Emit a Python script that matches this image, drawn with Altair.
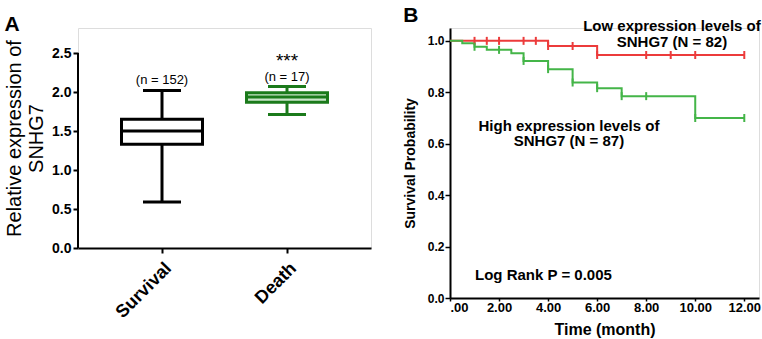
import altair as alt
import pandas as pd

FONT = "Liberation Sans"

# ---------- Panel A data (box plot summary) ----------
groups = ["Survival", "Death"]
box_min = [0.59, 1.71]
box_q1 = [1.33, 1.87]
box_med = [1.50, 1.935]
box_q3 = [1.65, 1.99]
box_max = [2.02, 2.07]
box_stroke = ["#000000", "#1b7a1b"]
box_fill = ["#ffffff", "#c9e6c9"]

n_labels = ["(n = 152)", "(n = 17)"]
n_label_y = [2.15, 2.19]
sig_labels = ["", "***"]
sig_y = [2.40, 2.40]
y_ticks_A = [0, 0.5, 1.0, 1.5, 2.0, 2.5]
y_axis_top_A = 2.5

# ---------- Panel B data (Kaplan-Meier) ----------
low_t = [0, 4.0, 6.0, 12.0]
low_s = [1.0, 0.98, 0.945, 0.945]
high_t = [0, 0.5, 1.0, 1.5, 2.5, 3.0, 4.0, 5.0, 6.0, 7.0, 10.0, 12.0]
high_s = [1.0, 0.991, 0.977, 0.965, 0.952, 0.922, 0.89, 0.838, 0.816, 0.785, 0.70, 0.70]

low_cens_t = [1.0, 1.5, 2.0, 3.0, 3.5, 4.0, 5.0, 6.0, 8.0, 9.0, 10.0, 12.0]
low_cens_s = [1.0, 1.0, 1.0, 1.0, 1.0, 0.98, 0.98, 0.945, 0.945, 0.945, 0.945, 0.945]
high_cens_t = [1.0, 2.0, 3.0, 4.0, 5.0, 6.0, 7.0, 8.0, 10.0, 12.0]
high_cens_s = [0.977, 0.965, 0.922, 0.89, 0.838, 0.816, 0.785, 0.785, 0.70, 0.70]

ann_text = ["Low expression levels of", "SNHG7 (N = 82)",
            "High expression levels of", "SNHG7 (N = 87)"]
ann_x = [9.05, 9.05, 4.85, 4.85]
ann_y = [1.056, 0.996, 0.667, 0.612]
logrank_text = ["Log Rank P = 0.005"]
logrank_x = [1.02]
logrank_y = [0.089]

RED = "#ec3b3b"
GREEN = "#44b548"

# ---------- Panel A ----------
dfA = pd.DataFrame({
    "group": groups, "min": box_min, "q1": box_q1, "med": box_med,
    "q3": box_q3, "max": box_max, "n": n_labels, "ny": n_label_y,
    "sig": sig_labels, "sy": sig_y,
})

HEIGHT_A = 220          # plot area incl. free space above the 2.5 tick
AXIS_PX_A = 195         # pixel length of the 0..2.5 axis

xA = alt.X("group:N", sort=groups,
           scale=alt.Scale(type="point", domain=groups, padding=0.672),
           axis=alt.Axis(title=None, labelAngle=-45, labelFontSize=18,
                         labelFontWeight="bold", labelColor="black",
                         labelFont=FONT, labelPadding=6,
                         tickSize=5, tickWidth=2, tickColor="black",
                         domainWidth=2, domainColor="black", grid=False))
yScaleA = alt.Scale(domain=[0, y_axis_top_A * HEIGHT_A / AXIS_PX_A], nice=False)
yAxisA = alt.Axis(values=y_ticks_A, format=".1f",
                  labelFontSize=14, labelFontWeight="bold", labelColor="black",
                  labelFont=FONT, labelPadding=2,
                  tickSize=5, tickWidth=2, tickColor="black",
                  domain=False, grid=False,
                  title=["Relative expression of", "SNHG7"],
                  titleFontSize=20, titleFontWeight="normal", titleColor="black",
                  titleFont=FONT, titlePadding=5)


def yA(field):
    return alt.Y(field, scale=yScaleA, axis=yAxisA)


colorA = alt.Color("group:N", scale=alt.Scale(domain=groups, range=box_stroke), legend=None)
strokeA = alt.Stroke("group:N", scale=alt.Scale(domain=groups, range=box_stroke), legend=None)
fillA = alt.Fill("group:N", scale=alt.Scale(domain=groups, range=box_fill), legend=None)

baseA = alt.Chart(dfA)
axis_line = baseA.mark_rule(strokeWidth=2, color="black").encode(
    x=alt.value(0), y=alt.Y(datum=0, scale=yScaleA, axis=yAxisA), y2=alt.Y2(datum=y_axis_top_A))
whisk_lo = baseA.mark_rule(strokeWidth=3).encode(
    x=xA, y=yA("min:Q"), y2="q1:Q", color=colorA)
whisk_hi = baseA.mark_rule(strokeWidth=3).encode(
    x=xA, y=yA("q3:Q"), y2="max:Q", color=colorA)
caps_lo = baseA.mark_tick(thickness=3, size=38, opacity=1).encode(
    x=xA, y=yA("min:Q"), color=colorA)
caps_hi = baseA.mark_tick(thickness=3, size=38, opacity=1).encode(
    x=xA, y=yA("max:Q"), color=colorA)
boxes = baseA.mark_bar(strokeWidth=3, size=81, opacity=1).encode(
    x=xA, y=yA("q1:Q"), y2="q3:Q", stroke=strokeA, fill=fillA)
medians = baseA.mark_tick(thickness=3, size=81, opacity=1).encode(
    x=xA, y=yA("med:Q"), color=colorA)
ntext = baseA.mark_text(fontSize=13, font=FONT, color="black", baseline="middle").encode(
    x=xA, y=yA("ny:Q"), text="n:N")
sigtext = baseA.mark_text(fontSize=19, font=FONT, color="black", baseline="middle").encode(
    x=xA, y=yA("sy:Q"), text="sig:N")

panelA = alt.layer(whisk_lo, axis_line, whisk_hi, caps_lo, caps_hi, boxes, medians,
                   ntext, sigtext).properties(
    width=293, height=HEIGHT_A,
    title=alt.TitleParams("A", anchor="start", fontSize=21, fontWeight="bold",
                          font=FONT, color="black", offset=-7))

# ---------- Panel B ----------
dfLine = pd.concat([
    pd.DataFrame({"t": low_t, "s": low_s, "grp": "Low"}),
    pd.DataFrame({"t": high_t, "s": high_s, "grp": "High"}),
])
dfCens = pd.concat([
    pd.DataFrame({"t": low_cens_t, "s": low_cens_s, "grp": "Low"}),
    pd.DataFrame({"t": high_cens_t, "s": high_cens_s, "grp": "High"}),
])
dfAnn = pd.DataFrame({"x": ann_x, "y": ann_y, "text": ann_text})
dfLR = pd.DataFrame({"x": logrank_x, "y": logrank_y, "text": logrank_text})

xScaleB = alt.Scale(domain=[0, 12.6], nice=False, zero=False)
yScaleB = alt.Scale(domain=[0, 1.05], nice=False)
xAxisB = alt.Axis(values=[0, 2, 4, 6, 8, 10, 12],
                  labelExpr="datum.value == 0 ? '.00' : format(datum.value, '.2f')",
                  labelFontSize=13, labelFontWeight="bold", labelColor="black",
                  labelFont=FONT, labelPadding=0, tickSize=3, tickWidth=1.5,
                  tickColor="black", domainWidth=2, domainColor="black", grid=False,
                  title="Time (month)", titleFontSize=16, titleFontWeight="bold",
                  titleColor="black", titleFont=FONT, titlePadding=7)
yAxisB = alt.Axis(values=[0, 0.2, 0.4, 0.6, 0.8, 1.0], format=".1f",
                  labelFontSize=12, labelFontWeight="bold", labelColor="black",
                  labelFont=FONT, labelPadding=1, tickSize=5, tickWidth=1.5,
                  tickColor="black", domainWidth=2, domainColor="black", grid=False,
                  title="Survival Probability", titleFontSize=14, titleFontWeight="bold",
                  titleColor="black", titleFont=FONT, titlePadding=10)
colorB = alt.Color("grp:N", scale=alt.Scale(domain=["Low", "High"], range=[RED, GREEN]),
                   legend=None)


def xB(field):
    return alt.X(field, scale=xScaleB, axis=xAxisB)


def yB(field):
    return alt.Y(field, scale=yScaleB, axis=yAxisB)


lines = alt.Chart(dfLine).mark_line(interpolate="step-after", strokeWidth=2).encode(
    x=xB("t:Q"), y=yB("s:Q"), color=colorB, detail="grp:N")
cens = alt.Chart(dfCens).mark_tick(orient="vertical", size=8, thickness=2, opacity=1).encode(
    x=xB("t:Q"), y=yB("s:Q"), color=colorB)
ann = alt.Chart(dfAnn).mark_text(fontSize=15, fontWeight="bold", font=FONT,
                                 color="black", align="center", baseline="middle").encode(
    x=xB("x:Q"), y=yB("y:Q"), text="text:N")
lr = alt.Chart(dfLR).mark_text(fontSize=15, fontWeight="bold", font=FONT,
                               color="black", align="left", baseline="middle").encode(
    x=xB("x:Q"), y=yB("y:Q"), text="text:N")

panelB = alt.layer(lines, cens, ann, lr).properties(
    width=309, height=270,
    title=alt.TitleParams("B", anchor="start", fontSize=21, fontWeight="bold",
                          font=FONT, color="black", offset=-7))

chart = alt.hconcat(panelA, panelB, spacing=30).resolve_scale(
    color="independent", stroke="independent", fill="independent"
).properties(
    padding={"left": 4, "top": 4, "right": 0, "bottom": 0}
).configure_view(stroke=None).configure(font=FONT)

chart.save("out.html", embed_options={"renderer": "svg", "actions": False})
